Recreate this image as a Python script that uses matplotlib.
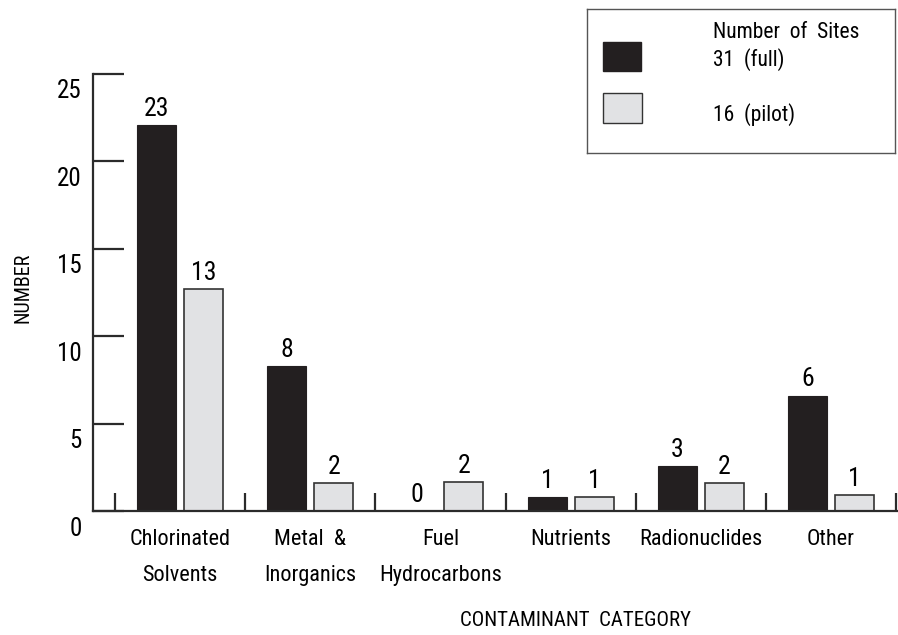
import numpy as np
import matplotlib
matplotlib.use("Agg")
import matplotlib.pyplot as plt
from matplotlib import font_manager
from matplotlib.patches import Rectangle
import matplotlib.transforms as mtransforms

# pick a narrow face if one is installed
names = {(f.name, f.stretch) for f in font_manager.fontManager.ttflist}
fam = 'Roboto'
stretch = 'normal'
for n in ['Liberation Sans Narrow', 'Roboto Condensed', 'Open Sans Condensed']:
    if any(nm == n for nm, _ in names):
        fam = n
        break
else:
    if any(nm == 'DejaVu Sans' and st in ('condensed', 'semi-condensed', 500, 600)
           for nm, st in names):
        fam = 'DejaVu Sans'
        stretch = 'condensed'
plt.rcParams['font.family'] = [fam, 'DejaVu Sans']
plt.rcParams['font.stretch'] = stretch

# data
categories = ['Chlorinated\nSolvents', 'Metal  &\nInorganics', 'Fuel\nHydrocarbons',
              'Nutrients', 'Radionuclides', 'Other']
full_heights = [22.1, 8.3, 0.0, 0.8, 2.55, 6.6]     # bar heights as drawn
pilot_heights = [12.7, 1.6, 1.65, 0.8, 1.6, 0.9]
full_labels = [23, 8, 0, 1, 3, 6]                   # numbers printed on bars
pilot_labels = [13, 2, 2, 1, 2, 1]
y_ticks = [0, 5, 10, 15, 20, 25]

dark = '#231f20'
light = '#e1e2e4'
axis_col = '#2b2b2b'

fig = plt.figure(figsize=(8.98, 6.35), dpi=100)
ax = fig.add_axes([93 / 898, 1 - 511 / 635, (898 - 93) / 898, (511 - 74) / 635])

x = np.arange(len(categories))
off = 0.18
w = 0.30
ax.bar(x - off, full_heights, w, color=dark, edgecolor=dark, linewidth=0.8)
ax.bar(x + off, pilot_heights, w, color=light, edgecolor='#333333', linewidth=1.2)

for xi, h, lab in zip(x - off, full_heights, full_labels):
    ax.annotate(str(lab), (xi, h), xytext=(0, 3), textcoords='offset points',
                ha='center', va='bottom', fontsize=18.5, color='black')
for xi, h, lab in zip(x + off, pilot_heights, pilot_labels):
    ax.annotate(str(lab), (xi, h), xytext=(0, 3), textcoords='offset points',
                ha='center', va='bottom', fontsize=18.5, color='black')

ax.set_xlim(-0.669, 5.515)
ax.set_ylim(0, 25)

for s in ['top', 'right']:
    ax.spines[s].set_visible(False)
for s in ['left', 'bottom']:
    ax.spines[s].set_linewidth(1.6)
    ax.spines[s].set_color(axis_col)

# y ticks point inward, labels sit a bit below their tick
ax.set_yticks(y_ticks)
ax.set_yticklabels([str(t) for t in y_ticks])
ax.tick_params(axis='y', direction='in', length=22, width=1.6, color=axis_col,
               pad=8, labelsize=18)
shift = mtransforms.ScaledTranslation(0, -15 / 100, fig.dpi_scale_trans)
for lab in ax.get_yticklabels():
    lab.set_transform(lab.get_transform() + shift)

# category labels and separators
ax.set_xticks(x)
ax.set_xticklabels(categories, fontsize=16, linespacing=1.95, va='top')
ax.tick_params(axis='x', which='major', length=0, pad=13)
ax.set_xticks(np.arange(-0.5, len(categories)), minor=True)
ax.tick_params(axis='x', which='minor', direction='in', length=13, width=1.6,
               color=axis_col)

fig.text(23 / 898, 1 - 288 / 635, 'NUMBER', rotation=90, ha='center', va='center',
         fontsize=14.5)
fig.text(575 / 898, 1 - 620 / 635, 'CONTAMINANT  CATEGORY', ha='center', va='center',
         fontsize=15)

# legend box
lg = fig.add_axes([587 / 898, 1 - 153 / 635, (895 - 587) / 898, (153 - 9) / 635])
lg.set_xlim(587, 895)
lg.set_ylim(153, 9)
lg.set_xticks([])
lg.set_yticks([])
for s in lg.spines.values():
    s.set_linewidth(1.0)
    s.set_color('#555555')
lg.add_patch(Rectangle((603, 42), 38, 29, facecolor=dark, edgecolor=dark))
lg.add_patch(Rectangle((603, 93), 39, 30, facecolor=light, edgecolor='#333333',
                       linewidth=1.0))
lg.text(713, 33, 'Number  of  Sites', ha='left', va='center', fontsize=15.5)
lg.text(713, 60, '31  (full)', ha='left', va='center', fontsize=15.5)
lg.text(713, 115, '16  (pilot)', ha='left', va='center', fontsize=15.5)

fig.savefig('out.png', dpi=100)
